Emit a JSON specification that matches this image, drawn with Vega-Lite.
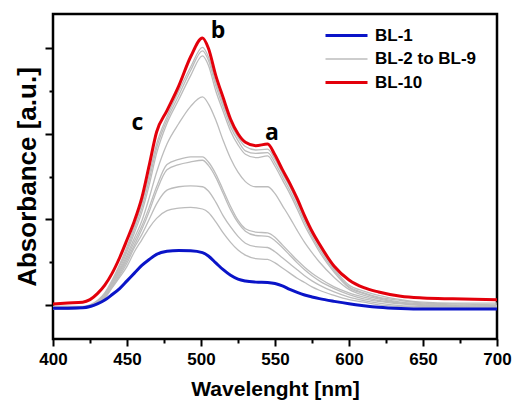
{
"$schema": "https://vega.github.io/schema/vega-lite/v6.json",
"width": 444, "height": 325,
"autosize": {"type": "none"},
"padding": {"left": 53, "top": 14, "right": 15, "bottom": 64},
"background": "white",
"config": {"view": {"stroke": "black", "strokeWidth": 2.5}},
"datasets": {
"curves": [
{"s":"BL-10","g":"BL-10","x":400,"y":0.01},{"s":"BL-10","g":"BL-10","x":410,"y":0.02},{"s":"BL-10","g":"BL-10","x":420,"y":0.03},{"s":"BL-10","g":"BL-10","x":425,"y":0.06},{"s":"BL-10","g":"BL-10","x":430,"y":0.13},{"s":"BL-10","g":"BL-10","x":435,"y":0.23},{"s":"BL-10","g":"BL-10","x":440,"y":0.37},{"s":"BL-10","g":"BL-10","x":445,"y":0.55},{"s":"BL-10","g":"BL-10","x":450,"y":0.76},{"s":"BL-10","g":"BL-10","x":455,"y":0.98},{"s":"BL-10","g":"BL-10","x":460,"y":1.25},{"s":"BL-10","g":"BL-10","x":465,"y":1.63},{"s":"BL-10","g":"BL-10","x":470,"y":2.02},{"s":"BL-10","g":"BL-10","x":477,"y":2.27},{"s":"BL-10","g":"BL-10","x":485,"y":2.56},{"s":"BL-10","g":"BL-10","x":493,"y":2.9},{"s":"BL-10","g":"BL-10","x":501,"y":3.12},{"s":"BL-10","g":"BL-10","x":505,"y":3.0},{"s":"BL-10","g":"BL-10","x":510,"y":2.68},{"s":"BL-10","g":"BL-10","x":515,"y":2.42},{"s":"BL-10","g":"BL-10","x":520,"y":2.17},{"s":"BL-10","g":"BL-10","x":525,"y":2.0},{"s":"BL-10","g":"BL-10","x":530,"y":1.9},{"s":"BL-10","g":"BL-10","x":537,"y":1.86},{"s":"BL-10","g":"BL-10","x":545,"y":1.88},{"s":"BL-10","g":"BL-10","x":550,"y":1.75},{"s":"BL-10","g":"BL-10","x":555,"y":1.58},{"s":"BL-10","g":"BL-10","x":560,"y":1.42},{"s":"BL-10","g":"BL-10","x":565,"y":1.24},{"s":"BL-10","g":"BL-10","x":570,"y":1.04},{"s":"BL-10","g":"BL-10","x":575,"y":0.86},{"s":"BL-10","g":"BL-10","x":580,"y":0.71},{"s":"BL-10","g":"BL-10","x":590,"y":0.45},{"s":"BL-10","g":"BL-10","x":600,"y":0.29},{"s":"BL-10","g":"BL-10","x":610,"y":0.2},{"s":"BL-10","g":"BL-10","x":620,"y":0.15},{"s":"BL-10","g":"BL-10","x":635,"y":0.1},{"s":"BL-10","g":"BL-10","x":650,"y":0.08},{"s":"BL-10","g":"BL-10","x":670,"y":0.07},{"s":"BL-10","g":"BL-10","x":700,"y":0.06},
{"s":"BL-9","g":"BL-2 to BL-9","x":400,"y":-0.02},{"s":"BL-9","g":"BL-2 to BL-9","x":410,"y":-0.02},{"s":"BL-9","g":"BL-2 to BL-9","x":420,"y":-0.02},{"s":"BL-9","g":"BL-2 to BL-9","x":425,"y":0.0},{"s":"BL-9","g":"BL-2 to BL-9","x":430,"y":0.05},{"s":"BL-9","g":"BL-2 to BL-9","x":435,"y":0.14},{"s":"BL-9","g":"BL-2 to BL-9","x":440,"y":0.29},{"s":"BL-9","g":"BL-2 to BL-9","x":445,"y":0.47},{"s":"BL-9","g":"BL-2 to BL-9","x":450,"y":0.68},{"s":"BL-9","g":"BL-2 to BL-9","x":455,"y":0.92},{"s":"BL-9","g":"BL-2 to BL-9","x":460,"y":1.18},{"s":"BL-9","g":"BL-2 to BL-9","x":465,"y":1.52},{"s":"BL-9","g":"BL-2 to BL-9","x":470,"y":1.88},{"s":"BL-9","g":"BL-2 to BL-9","x":477,"y":2.2},{"s":"BL-9","g":"BL-2 to BL-9","x":485,"y":2.5},{"s":"BL-9","g":"BL-2 to BL-9","x":493,"y":2.78},{"s":"BL-9","g":"BL-2 to BL-9","x":501,"y":3.01},{"s":"BL-9","g":"BL-2 to BL-9","x":505,"y":2.9},{"s":"BL-9","g":"BL-2 to BL-9","x":510,"y":2.6},{"s":"BL-9","g":"BL-2 to BL-9","x":515,"y":2.35},{"s":"BL-9","g":"BL-2 to BL-9","x":520,"y":2.12},{"s":"BL-9","g":"BL-2 to BL-9","x":525,"y":1.96},{"s":"BL-9","g":"BL-2 to BL-9","x":530,"y":1.85},{"s":"BL-9","g":"BL-2 to BL-9","x":537,"y":1.81},{"s":"BL-9","g":"BL-2 to BL-9","x":545,"y":1.82},{"s":"BL-9","g":"BL-2 to BL-9","x":550,"y":1.7},{"s":"BL-9","g":"BL-2 to BL-9","x":555,"y":1.54},{"s":"BL-9","g":"BL-2 to BL-9","x":560,"y":1.38},{"s":"BL-9","g":"BL-2 to BL-9","x":565,"y":1.2},{"s":"BL-9","g":"BL-2 to BL-9","x":570,"y":1.0},{"s":"BL-9","g":"BL-2 to BL-9","x":575,"y":0.83},{"s":"BL-9","g":"BL-2 to BL-9","x":580,"y":0.68},{"s":"BL-9","g":"BL-2 to BL-9","x":590,"y":0.42},{"s":"BL-9","g":"BL-2 to BL-9","x":600,"y":0.23},{"s":"BL-9","g":"BL-2 to BL-9","x":610,"y":0.16},{"s":"BL-9","g":"BL-2 to BL-9","x":620,"y":0.11},{"s":"BL-9","g":"BL-2 to BL-9","x":635,"y":0.06},{"s":"BL-9","g":"BL-2 to BL-9","x":650,"y":0.03},{"s":"BL-9","g":"BL-2 to BL-9","x":670,"y":0.02},{"s":"BL-9","g":"BL-2 to BL-9","x":700,"y":0.02},
{"s":"BL-8","g":"BL-2 to BL-9","x":400,"y":-0.03},{"s":"BL-8","g":"BL-2 to BL-9","x":410,"y":-0.03},{"s":"BL-8","g":"BL-2 to BL-9","x":420,"y":-0.03},{"s":"BL-8","g":"BL-2 to BL-9","x":425,"y":-0.01},{"s":"BL-8","g":"BL-2 to BL-9","x":430,"y":0.04},{"s":"BL-8","g":"BL-2 to BL-9","x":435,"y":0.13},{"s":"BL-8","g":"BL-2 to BL-9","x":440,"y":0.27},{"s":"BL-8","g":"BL-2 to BL-9","x":445,"y":0.45},{"s":"BL-8","g":"BL-2 to BL-9","x":450,"y":0.65},{"s":"BL-8","g":"BL-2 to BL-9","x":455,"y":0.88},{"s":"BL-8","g":"BL-2 to BL-9","x":460,"y":1.13},{"s":"BL-8","g":"BL-2 to BL-9","x":465,"y":1.46},{"s":"BL-8","g":"BL-2 to BL-9","x":470,"y":1.83},{"s":"BL-8","g":"BL-2 to BL-9","x":477,"y":2.16},{"s":"BL-8","g":"BL-2 to BL-9","x":485,"y":2.45},{"s":"BL-8","g":"BL-2 to BL-9","x":493,"y":2.74},{"s":"BL-8","g":"BL-2 to BL-9","x":501,"y":2.97},{"s":"BL-8","g":"BL-2 to BL-9","x":505,"y":2.86},{"s":"BL-8","g":"BL-2 to BL-9","x":510,"y":2.56},{"s":"BL-8","g":"BL-2 to BL-9","x":515,"y":2.31},{"s":"BL-8","g":"BL-2 to BL-9","x":520,"y":2.08},{"s":"BL-8","g":"BL-2 to BL-9","x":525,"y":1.92},{"s":"BL-8","g":"BL-2 to BL-9","x":530,"y":1.8},{"s":"BL-8","g":"BL-2 to BL-9","x":537,"y":1.77},{"s":"BL-8","g":"BL-2 to BL-9","x":545,"y":1.78},{"s":"BL-8","g":"BL-2 to BL-9","x":550,"y":1.66},{"s":"BL-8","g":"BL-2 to BL-9","x":555,"y":1.5},{"s":"BL-8","g":"BL-2 to BL-9","x":560,"y":1.34},{"s":"BL-8","g":"BL-2 to BL-9","x":565,"y":1.16},{"s":"BL-8","g":"BL-2 to BL-9","x":570,"y":0.97},{"s":"BL-8","g":"BL-2 to BL-9","x":575,"y":0.8},{"s":"BL-8","g":"BL-2 to BL-9","x":580,"y":0.65},{"s":"BL-8","g":"BL-2 to BL-9","x":590,"y":0.4},{"s":"BL-8","g":"BL-2 to BL-9","x":600,"y":0.21},{"s":"BL-8","g":"BL-2 to BL-9","x":610,"y":0.14},{"s":"BL-8","g":"BL-2 to BL-9","x":620,"y":0.09},{"s":"BL-8","g":"BL-2 to BL-9","x":635,"y":0.05},{"s":"BL-8","g":"BL-2 to BL-9","x":650,"y":0.02},{"s":"BL-8","g":"BL-2 to BL-9","x":670,"y":0.01},{"s":"BL-8","g":"BL-2 to BL-9","x":700,"y":0.0},
{"s":"BL-7","g":"BL-2 to BL-9","x":400,"y":-0.02},{"s":"BL-7","g":"BL-2 to BL-9","x":410,"y":-0.02},{"s":"BL-7","g":"BL-2 to BL-9","x":420,"y":-0.03},{"s":"BL-7","g":"BL-2 to BL-9","x":425,"y":-0.01},{"s":"BL-7","g":"BL-2 to BL-9","x":430,"y":0.03},{"s":"BL-7","g":"BL-2 to BL-9","x":435,"y":0.12},{"s":"BL-7","g":"BL-2 to BL-9","x":440,"y":0.26},{"s":"BL-7","g":"BL-2 to BL-9","x":445,"y":0.42},{"s":"BL-7","g":"BL-2 to BL-9","x":450,"y":0.62},{"s":"BL-7","g":"BL-2 to BL-9","x":455,"y":0.84},{"s":"BL-7","g":"BL-2 to BL-9","x":460,"y":1.08},{"s":"BL-7","g":"BL-2 to BL-9","x":465,"y":1.4},{"s":"BL-7","g":"BL-2 to BL-9","x":470,"y":1.77},{"s":"BL-7","g":"BL-2 to BL-9","x":477,"y":2.12},{"s":"BL-7","g":"BL-2 to BL-9","x":485,"y":2.4},{"s":"BL-7","g":"BL-2 to BL-9","x":493,"y":2.68},{"s":"BL-7","g":"BL-2 to BL-9","x":501,"y":2.91},{"s":"BL-7","g":"BL-2 to BL-9","x":505,"y":2.8},{"s":"BL-7","g":"BL-2 to BL-9","x":510,"y":2.5},{"s":"BL-7","g":"BL-2 to BL-9","x":515,"y":2.26},{"s":"BL-7","g":"BL-2 to BL-9","x":520,"y":2.03},{"s":"BL-7","g":"BL-2 to BL-9","x":525,"y":1.87},{"s":"BL-7","g":"BL-2 to BL-9","x":530,"y":1.76},{"s":"BL-7","g":"BL-2 to BL-9","x":537,"y":1.72},{"s":"BL-7","g":"BL-2 to BL-9","x":545,"y":1.74},{"s":"BL-7","g":"BL-2 to BL-9","x":550,"y":1.62},{"s":"BL-7","g":"BL-2 to BL-9","x":555,"y":1.46},{"s":"BL-7","g":"BL-2 to BL-9","x":560,"y":1.3},{"s":"BL-7","g":"BL-2 to BL-9","x":565,"y":1.12},{"s":"BL-7","g":"BL-2 to BL-9","x":570,"y":0.93},{"s":"BL-7","g":"BL-2 to BL-9","x":575,"y":0.77},{"s":"BL-7","g":"BL-2 to BL-9","x":580,"y":0.62},{"s":"BL-7","g":"BL-2 to BL-9","x":590,"y":0.38},{"s":"BL-7","g":"BL-2 to BL-9","x":600,"y":0.2},{"s":"BL-7","g":"BL-2 to BL-9","x":610,"y":0.13},{"s":"BL-7","g":"BL-2 to BL-9","x":620,"y":0.08},{"s":"BL-7","g":"BL-2 to BL-9","x":635,"y":0.03},{"s":"BL-7","g":"BL-2 to BL-9","x":650,"y":0.01},{"s":"BL-7","g":"BL-2 to BL-9","x":670,"y":0.0},{"s":"BL-7","g":"BL-2 to BL-9","x":700,"y":-0.01},
{"s":"BL-6","g":"BL-2 to BL-9","x":400,"y":-0.04},{"s":"BL-6","g":"BL-2 to BL-9","x":410,"y":-0.04},{"s":"BL-6","g":"BL-2 to BL-9","x":420,"y":-0.04},{"s":"BL-6","g":"BL-2 to BL-9","x":425,"y":-0.02},{"s":"BL-6","g":"BL-2 to BL-9","x":430,"y":0.03},{"s":"BL-6","g":"BL-2 to BL-9","x":435,"y":0.11},{"s":"BL-6","g":"BL-2 to BL-9","x":440,"y":0.25},{"s":"BL-6","g":"BL-2 to BL-9","x":445,"y":0.4},{"s":"BL-6","g":"BL-2 to BL-9","x":450,"y":0.58},{"s":"BL-6","g":"BL-2 to BL-9","x":455,"y":0.78},{"s":"BL-6","g":"BL-2 to BL-9","x":460,"y":0.98},{"s":"BL-6","g":"BL-2 to BL-9","x":465,"y":1.25},{"s":"BL-6","g":"BL-2 to BL-9","x":470,"y":1.55},{"s":"BL-6","g":"BL-2 to BL-9","x":477,"y":1.88},{"s":"BL-6","g":"BL-2 to BL-9","x":485,"y":2.12},{"s":"BL-6","g":"BL-2 to BL-9","x":493,"y":2.32},{"s":"BL-6","g":"BL-2 to BL-9","x":501,"y":2.43},{"s":"BL-6","g":"BL-2 to BL-9","x":505,"y":2.35},{"s":"BL-6","g":"BL-2 to BL-9","x":510,"y":2.16},{"s":"BL-6","g":"BL-2 to BL-9","x":515,"y":1.92},{"s":"BL-6","g":"BL-2 to BL-9","x":520,"y":1.71},{"s":"BL-6","g":"BL-2 to BL-9","x":525,"y":1.55},{"s":"BL-6","g":"BL-2 to BL-9","x":530,"y":1.44},{"s":"BL-6","g":"BL-2 to BL-9","x":537,"y":1.38},{"s":"BL-6","g":"BL-2 to BL-9","x":545,"y":1.38},{"s":"BL-6","g":"BL-2 to BL-9","x":550,"y":1.3},{"s":"BL-6","g":"BL-2 to BL-9","x":555,"y":1.16},{"s":"BL-6","g":"BL-2 to BL-9","x":560,"y":1.02},{"s":"BL-6","g":"BL-2 to BL-9","x":565,"y":0.87},{"s":"BL-6","g":"BL-2 to BL-9","x":570,"y":0.73},{"s":"BL-6","g":"BL-2 to BL-9","x":575,"y":0.61},{"s":"BL-6","g":"BL-2 to BL-9","x":580,"y":0.5},{"s":"BL-6","g":"BL-2 to BL-9","x":590,"y":0.32},{"s":"BL-6","g":"BL-2 to BL-9","x":600,"y":0.18},{"s":"BL-6","g":"BL-2 to BL-9","x":610,"y":0.11},{"s":"BL-6","g":"BL-2 to BL-9","x":620,"y":0.07},{"s":"BL-6","g":"BL-2 to BL-9","x":635,"y":0.02},{"s":"BL-6","g":"BL-2 to BL-9","x":650,"y":0.0},{"s":"BL-6","g":"BL-2 to BL-9","x":670,"y":-0.01},{"s":"BL-6","g":"BL-2 to BL-9","x":700,"y":-0.02},
{"s":"BL-5","g":"BL-2 to BL-9","x":400,"y":-0.03},{"s":"BL-5","g":"BL-2 to BL-9","x":410,"y":-0.03},{"s":"BL-5","g":"BL-2 to BL-9","x":420,"y":-0.03},{"s":"BL-5","g":"BL-2 to BL-9","x":425,"y":-0.01},{"s":"BL-5","g":"BL-2 to BL-9","x":430,"y":0.03},{"s":"BL-5","g":"BL-2 to BL-9","x":435,"y":0.1},{"s":"BL-5","g":"BL-2 to BL-9","x":440,"y":0.24},{"s":"BL-5","g":"BL-2 to BL-9","x":445,"y":0.38},{"s":"BL-5","g":"BL-2 to BL-9","x":450,"y":0.55},{"s":"BL-5","g":"BL-2 to BL-9","x":455,"y":0.74},{"s":"BL-5","g":"BL-2 to BL-9","x":460,"y":0.92},{"s":"BL-5","g":"BL-2 to BL-9","x":465,"y":1.14},{"s":"BL-5","g":"BL-2 to BL-9","x":470,"y":1.38},{"s":"BL-5","g":"BL-2 to BL-9","x":477,"y":1.64},{"s":"BL-5","g":"BL-2 to BL-9","x":485,"y":1.7},{"s":"BL-5","g":"BL-2 to BL-9","x":493,"y":1.73},{"s":"BL-5","g":"BL-2 to BL-9","x":501,"y":1.73},{"s":"BL-5","g":"BL-2 to BL-9","x":505,"y":1.67},{"s":"BL-5","g":"BL-2 to BL-9","x":510,"y":1.53},{"s":"BL-5","g":"BL-2 to BL-9","x":515,"y":1.34},{"s":"BL-5","g":"BL-2 to BL-9","x":520,"y":1.15},{"s":"BL-5","g":"BL-2 to BL-9","x":525,"y":0.99},{"s":"BL-5","g":"BL-2 to BL-9","x":530,"y":0.89},{"s":"BL-5","g":"BL-2 to BL-9","x":537,"y":0.85},{"s":"BL-5","g":"BL-2 to BL-9","x":545,"y":0.84},{"s":"BL-5","g":"BL-2 to BL-9","x":550,"y":0.79},{"s":"BL-5","g":"BL-2 to BL-9","x":555,"y":0.7},{"s":"BL-5","g":"BL-2 to BL-9","x":560,"y":0.61},{"s":"BL-5","g":"BL-2 to BL-9","x":565,"y":0.52},{"s":"BL-5","g":"BL-2 to BL-9","x":570,"y":0.44},{"s":"BL-5","g":"BL-2 to BL-9","x":575,"y":0.37},{"s":"BL-5","g":"BL-2 to BL-9","x":580,"y":0.31},{"s":"BL-5","g":"BL-2 to BL-9","x":590,"y":0.21},{"s":"BL-5","g":"BL-2 to BL-9","x":600,"y":0.14},{"s":"BL-5","g":"BL-2 to BL-9","x":610,"y":0.09},{"s":"BL-5","g":"BL-2 to BL-9","x":620,"y":0.05},{"s":"BL-5","g":"BL-2 to BL-9","x":635,"y":0.02},{"s":"BL-5","g":"BL-2 to BL-9","x":650,"y":0.0},{"s":"BL-5","g":"BL-2 to BL-9","x":670,"y":-0.02},{"s":"BL-5","g":"BL-2 to BL-9","x":700,"y":-0.03},
{"s":"BL-4","g":"BL-2 to BL-9","x":400,"y":-0.05},{"s":"BL-4","g":"BL-2 to BL-9","x":410,"y":-0.05},{"s":"BL-4","g":"BL-2 to BL-9","x":420,"y":-0.04},{"s":"BL-4","g":"BL-2 to BL-9","x":425,"y":-0.02},{"s":"BL-4","g":"BL-2 to BL-9","x":430,"y":0.02},{"s":"BL-4","g":"BL-2 to BL-9","x":435,"y":0.09},{"s":"BL-4","g":"BL-2 to BL-9","x":440,"y":0.22},{"s":"BL-4","g":"BL-2 to BL-9","x":445,"y":0.36},{"s":"BL-4","g":"BL-2 to BL-9","x":450,"y":0.52},{"s":"BL-4","g":"BL-2 to BL-9","x":455,"y":0.7},{"s":"BL-4","g":"BL-2 to BL-9","x":460,"y":0.88},{"s":"BL-4","g":"BL-2 to BL-9","x":465,"y":1.09},{"s":"BL-4","g":"BL-2 to BL-9","x":470,"y":1.33},{"s":"BL-4","g":"BL-2 to BL-9","x":477,"y":1.58},{"s":"BL-4","g":"BL-2 to BL-9","x":485,"y":1.64},{"s":"BL-4","g":"BL-2 to BL-9","x":493,"y":1.67},{"s":"BL-4","g":"BL-2 to BL-9","x":501,"y":1.69},{"s":"BL-4","g":"BL-2 to BL-9","x":505,"y":1.63},{"s":"BL-4","g":"BL-2 to BL-9","x":510,"y":1.49},{"s":"BL-4","g":"BL-2 to BL-9","x":515,"y":1.3},{"s":"BL-4","g":"BL-2 to BL-9","x":520,"y":1.11},{"s":"BL-4","g":"BL-2 to BL-9","x":525,"y":0.96},{"s":"BL-4","g":"BL-2 to BL-9","x":530,"y":0.86},{"s":"BL-4","g":"BL-2 to BL-9","x":537,"y":0.81},{"s":"BL-4","g":"BL-2 to BL-9","x":545,"y":0.8},{"s":"BL-4","g":"BL-2 to BL-9","x":550,"y":0.75},{"s":"BL-4","g":"BL-2 to BL-9","x":555,"y":0.67},{"s":"BL-4","g":"BL-2 to BL-9","x":560,"y":0.58},{"s":"BL-4","g":"BL-2 to BL-9","x":565,"y":0.49},{"s":"BL-4","g":"BL-2 to BL-9","x":570,"y":0.41},{"s":"BL-4","g":"BL-2 to BL-9","x":575,"y":0.34},{"s":"BL-4","g":"BL-2 to BL-9","x":580,"y":0.28},{"s":"BL-4","g":"BL-2 to BL-9","x":590,"y":0.19},{"s":"BL-4","g":"BL-2 to BL-9","x":600,"y":0.12},{"s":"BL-4","g":"BL-2 to BL-9","x":610,"y":0.07},{"s":"BL-4","g":"BL-2 to BL-9","x":620,"y":0.04},{"s":"BL-4","g":"BL-2 to BL-9","x":635,"y":0.01},{"s":"BL-4","g":"BL-2 to BL-9","x":650,"y":-0.01},{"s":"BL-4","g":"BL-2 to BL-9","x":670,"y":-0.02},{"s":"BL-4","g":"BL-2 to BL-9","x":700,"y":-0.03},
{"s":"BL-3","g":"BL-2 to BL-9","x":400,"y":-0.04},{"s":"BL-3","g":"BL-2 to BL-9","x":410,"y":-0.04},{"s":"BL-3","g":"BL-2 to BL-9","x":420,"y":-0.04},{"s":"BL-3","g":"BL-2 to BL-9","x":425,"y":-0.02},{"s":"BL-3","g":"BL-2 to BL-9","x":430,"y":0.02},{"s":"BL-3","g":"BL-2 to BL-9","x":435,"y":0.09},{"s":"BL-3","g":"BL-2 to BL-9","x":440,"y":0.21},{"s":"BL-3","g":"BL-2 to BL-9","x":445,"y":0.34},{"s":"BL-3","g":"BL-2 to BL-9","x":450,"y":0.49},{"s":"BL-3","g":"BL-2 to BL-9","x":455,"y":0.67},{"s":"BL-3","g":"BL-2 to BL-9","x":460,"y":0.82},{"s":"BL-3","g":"BL-2 to BL-9","x":465,"y":1.0},{"s":"BL-3","g":"BL-2 to BL-9","x":470,"y":1.18},{"s":"BL-3","g":"BL-2 to BL-9","x":477,"y":1.34},{"s":"BL-3","g":"BL-2 to BL-9","x":485,"y":1.38},{"s":"BL-3","g":"BL-2 to BL-9","x":493,"y":1.39},{"s":"BL-3","g":"BL-2 to BL-9","x":501,"y":1.38},{"s":"BL-3","g":"BL-2 to BL-9","x":505,"y":1.33},{"s":"BL-3","g":"BL-2 to BL-9","x":510,"y":1.2},{"s":"BL-3","g":"BL-2 to BL-9","x":515,"y":1.04},{"s":"BL-3","g":"BL-2 to BL-9","x":520,"y":0.91},{"s":"BL-3","g":"BL-2 to BL-9","x":525,"y":0.8},{"s":"BL-3","g":"BL-2 to BL-9","x":530,"y":0.72},{"s":"BL-3","g":"BL-2 to BL-9","x":537,"y":0.68},{"s":"BL-3","g":"BL-2 to BL-9","x":545,"y":0.67},{"s":"BL-3","g":"BL-2 to BL-9","x":550,"y":0.62},{"s":"BL-3","g":"BL-2 to BL-9","x":555,"y":0.55},{"s":"BL-3","g":"BL-2 to BL-9","x":560,"y":0.48},{"s":"BL-3","g":"BL-2 to BL-9","x":565,"y":0.41},{"s":"BL-3","g":"BL-2 to BL-9","x":570,"y":0.34},{"s":"BL-3","g":"BL-2 to BL-9","x":575,"y":0.28},{"s":"BL-3","g":"BL-2 to BL-9","x":580,"y":0.23},{"s":"BL-3","g":"BL-2 to BL-9","x":590,"y":0.15},{"s":"BL-3","g":"BL-2 to BL-9","x":600,"y":0.09},{"s":"BL-3","g":"BL-2 to BL-9","x":610,"y":0.05},{"s":"BL-3","g":"BL-2 to BL-9","x":620,"y":0.02},{"s":"BL-3","g":"BL-2 to BL-9","x":635,"y":-0.01},{"s":"BL-3","g":"BL-2 to BL-9","x":650,"y":-0.02},{"s":"BL-3","g":"BL-2 to BL-9","x":670,"y":-0.03},{"s":"BL-3","g":"BL-2 to BL-9","x":700,"y":-0.04},
{"s":"BL-2","g":"BL-2 to BL-9","x":400,"y":-0.05},{"s":"BL-2","g":"BL-2 to BL-9","x":410,"y":-0.05},{"s":"BL-2","g":"BL-2 to BL-9","x":420,"y":-0.04},{"s":"BL-2","g":"BL-2 to BL-9","x":425,"y":-0.03},{"s":"BL-2","g":"BL-2 to BL-9","x":430,"y":0.01},{"s":"BL-2","g":"BL-2 to BL-9","x":435,"y":0.08},{"s":"BL-2","g":"BL-2 to BL-9","x":440,"y":0.2},{"s":"BL-2","g":"BL-2 to BL-9","x":445,"y":0.32},{"s":"BL-2","g":"BL-2 to BL-9","x":450,"y":0.45},{"s":"BL-2","g":"BL-2 to BL-9","x":455,"y":0.62},{"s":"BL-2","g":"BL-2 to BL-9","x":460,"y":0.76},{"s":"BL-2","g":"BL-2 to BL-9","x":465,"y":0.9},{"s":"BL-2","g":"BL-2 to BL-9","x":470,"y":1.01},{"s":"BL-2","g":"BL-2 to BL-9","x":477,"y":1.1},{"s":"BL-2","g":"BL-2 to BL-9","x":485,"y":1.13},{"s":"BL-2","g":"BL-2 to BL-9","x":493,"y":1.14},{"s":"BL-2","g":"BL-2 to BL-9","x":501,"y":1.12},{"s":"BL-2","g":"BL-2 to BL-9","x":505,"y":1.08},{"s":"BL-2","g":"BL-2 to BL-9","x":510,"y":0.97},{"s":"BL-2","g":"BL-2 to BL-9","x":515,"y":0.84},{"s":"BL-2","g":"BL-2 to BL-9","x":520,"y":0.73},{"s":"BL-2","g":"BL-2 to BL-9","x":525,"y":0.64},{"s":"BL-2","g":"BL-2 to BL-9","x":530,"y":0.58},{"s":"BL-2","g":"BL-2 to BL-9","x":537,"y":0.54},{"s":"BL-2","g":"BL-2 to BL-9","x":545,"y":0.53},{"s":"BL-2","g":"BL-2 to BL-9","x":550,"y":0.49},{"s":"BL-2","g":"BL-2 to BL-9","x":555,"y":0.43},{"s":"BL-2","g":"BL-2 to BL-9","x":560,"y":0.37},{"s":"BL-2","g":"BL-2 to BL-9","x":565,"y":0.31},{"s":"BL-2","g":"BL-2 to BL-9","x":570,"y":0.26},{"s":"BL-2","g":"BL-2 to BL-9","x":575,"y":0.21},{"s":"BL-2","g":"BL-2 to BL-9","x":580,"y":0.17},{"s":"BL-2","g":"BL-2 to BL-9","x":590,"y":0.11},{"s":"BL-2","g":"BL-2 to BL-9","x":600,"y":0.06},{"s":"BL-2","g":"BL-2 to BL-9","x":610,"y":0.03},{"s":"BL-2","g":"BL-2 to BL-9","x":620,"y":0.0},{"s":"BL-2","g":"BL-2 to BL-9","x":635,"y":-0.02},{"s":"BL-2","g":"BL-2 to BL-9","x":650,"y":-0.03},{"s":"BL-2","g":"BL-2 to BL-9","x":670,"y":-0.04},{"s":"BL-2","g":"BL-2 to BL-9","x":700,"y":-0.05},
{"s":"BL-1","g":"BL-1","x":400,"y":-0.04},{"s":"BL-1","g":"BL-1","x":410,"y":-0.04},{"s":"BL-1","g":"BL-1","x":420,"y":-0.035},{"s":"BL-1","g":"BL-1","x":425,"y":-0.02},{"s":"BL-1","g":"BL-1","x":430,"y":0.01},{"s":"BL-1","g":"BL-1","x":435,"y":0.055},{"s":"BL-1","g":"BL-1","x":440,"y":0.12},{"s":"BL-1","g":"BL-1","x":445,"y":0.19},{"s":"BL-1","g":"BL-1","x":450,"y":0.28},{"s":"BL-1","g":"BL-1","x":455,"y":0.37},{"s":"BL-1","g":"BL-1","x":460,"y":0.46},{"s":"BL-1","g":"BL-1","x":465,"y":0.53},{"s":"BL-1","g":"BL-1","x":470,"y":0.59},{"s":"BL-1","g":"BL-1","x":477,"y":0.625},{"s":"BL-1","g":"BL-1","x":485,"y":0.635},{"s":"BL-1","g":"BL-1","x":493,"y":0.632},{"s":"BL-1","g":"BL-1","x":501,"y":0.61},{"s":"BL-1","g":"BL-1","x":505,"y":0.57},{"s":"BL-1","g":"BL-1","x":510,"y":0.49},{"s":"BL-1","g":"BL-1","x":515,"y":0.41},{"s":"BL-1","g":"BL-1","x":520,"y":0.345},{"s":"BL-1","g":"BL-1","x":525,"y":0.3},{"s":"BL-1","g":"BL-1","x":530,"y":0.278},{"s":"BL-1","g":"BL-1","x":537,"y":0.265},{"s":"BL-1","g":"BL-1","x":545,"y":0.26},{"s":"BL-1","g":"BL-1","x":550,"y":0.248},{"s":"BL-1","g":"BL-1","x":555,"y":0.22},{"s":"BL-1","g":"BL-1","x":560,"y":0.18},{"s":"BL-1","g":"BL-1","x":565,"y":0.145},{"s":"BL-1","g":"BL-1","x":570,"y":0.115},{"s":"BL-1","g":"BL-1","x":575,"y":0.092},{"s":"BL-1","g":"BL-1","x":580,"y":0.072},{"s":"BL-1","g":"BL-1","x":590,"y":0.04},{"s":"BL-1","g":"BL-1","x":600,"y":0.012},{"s":"BL-1","g":"BL-1","x":610,"y":-0.01},{"s":"BL-1","g":"BL-1","x":620,"y":-0.028},{"s":"BL-1","g":"BL-1","x":635,"y":-0.043},{"s":"BL-1","g":"BL-1","x":650,"y":-0.05},{"s":"BL-1","g":"BL-1","x":670,"y":-0.05},{"s":"BL-1","g":"BL-1","x":700,"y":-0.05}
]
},
"encoding": {
"x": {"field": "x", "type": "quantitative", "scale": {"domain": [400, 700], "nice": false, "zero": false},
  "axis": {"title": "Wavelenght [nm]", "values": [400,425,450,475,500,525,550,575,600,625,650,675,700], "format": "d",
    "labelExpr": "datum.value % 50 === 0 ? datum.label : ''", "labelFlush": false,
    "tickSize": {"condition": {"test": "datum.value % 50 === 0", "value": 7}, "value": 4},
    "tickWidth": 2, "tickColor": "black", "domain": false, "grid": false,
    "labelFont": "Liberation Sans", "labelFontWeight": "bold", "labelFontSize": 17, "labelColor": "black", "labelPadding": 5,
    "titleFont": "Liberation Sans", "titleFontWeight": "bold", "titleFontSize": 21, "titleColor": "black", "titlePadding": 11}},
"y": {"field": "y", "type": "quantitative", "scale": {"domain": [-0.4, 3.4], "nice": false, "zero": false},
  "axis": {"title": "Absorbance [a.u.]", "values": [0,0.5,1,1.5,2,2.5,3], "labels": false,
    "tickSize": {"condition": {"test": "datum.value % 1 === 0", "value": 8}, "value": 4},
    "tickWidth": 2, "tickColor": "black", "domain": false, "grid": false,
    "titleFont": "Liberation Sans", "titleFontWeight": "bold", "titleFontSize": 26, "titleColor": "black", "titlePadding": 4}},
"color": {"field": "g", "type": "nominal", "scale": {"domain": ["BL-1", "BL-2 to BL-9", "BL-10"], "range": ["#0a14c8", "#bcbcbc", "#e3000b"]},
  "legend": {"orient": "none", "legendX": 285, "legendY": 13, "title": null, "symbolType": "stroke", "symbolSize": 1764, "symbolStrokeWidth": 3,
    "labelFont": "Liberation Sans", "labelFontWeight": "bold", "labelFontSize": 17, "labelColor": "black", "labelOffset": 20, "rowPadding": 5.5,
    "encode": {"symbols": {"update": {"strokeWidth": {"signal": "datum.value === 'BL-2 to BL-9' ? 1.3 : 3"}}}}}}
},
"layer": [
{"data": {"values": [{"w": 477}, {"w": 501}, {"w": 544}]},
 "mark": {"type": "rule", "color": "#555555", "strokeWidth": 1.2, "strokeDash": [9, 3, 2, 3]},
 "encoding": {"x": {"field": "w", "type": "quantitative"}, "y": {"datum": 3.29}, "y2": {"datum": -0.28}, "color": {"value": "#555555"}}},
{"data": {"name": "curves"}, "transform": [{"filter": "datum.g === 'BL-2 to BL-9'"}],
 "mark": {"type": "line", "interpolate": "monotone", "strokeWidth": 1.3},
 "encoding": {"detail": {"field": "s"}}},
{"data": {"name": "curves"}, "transform": [{"filter": "datum.g === 'BL-1'"}],
 "mark": {"type": "line", "interpolate": "monotone", "strokeWidth": 3}},
{"data": {"name": "curves"}, "transform": [{"filter": "datum.g === 'BL-10'"}],
 "mark": {"type": "line", "interpolate": "monotone", "strokeWidth": 3}},
{"data": {"values": [{"t": "c", "px": 457, "py": 2.12}, {"t": "b", "px": 511.5, "py": 3.2}, {"t": "a", "px": 548, "py": 2.01}]},
 "mark": {"type": "text", "font": "Open Sans", "fontWeight": "bold", "fontSize": 23, "baseline": "middle", "align": "center"},
 "encoding": {"x": {"field": "px", "type": "quantitative"}, "y": {"field": "py", "type": "quantitative"}, "text": {"field": "t"}, "color": {"value": "black"}}}
]
}
